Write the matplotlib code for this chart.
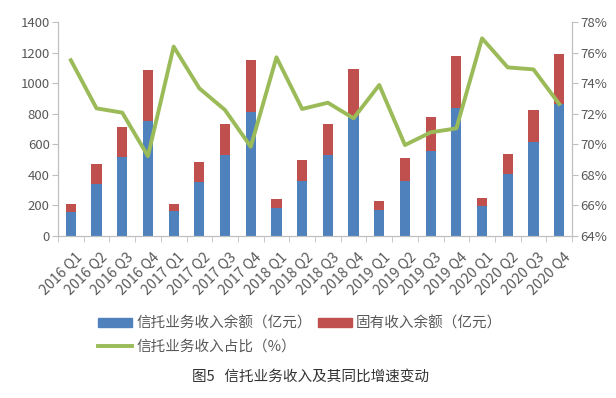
import matplotlib
matplotlib.use('Agg')
import matplotlib.pyplot as plt
import matplotlib.transforms as mtransforms
import numpy as np
from matplotlib.patches import Patch
from matplotlib.lines import Line2D

plt.rcParams['font.family'] = ['Noto Sans CJK SC', 'DejaVu Sans']

# quarters
quarters = ['2016 Q1', '2016 Q2', '2016 Q3', '2016 Q4',
            '2017 Q1', '2017 Q2', '2017 Q3', '2017 Q4',
            '2018 Q1', '2018 Q2', '2018 Q3', '2018 Q4',
            '2019 Q1', '2019 Q2', '2019 Q3', '2019 Q4',
            '2020 Q1', '2020 Q2', '2020 Q3', '2020 Q4']

# trust business income (100m yuan)
trust_income = [159, 340, 517, 752, 166, 355, 532, 809, 181, 362,
                532, 785, 170, 360, 554, 840, 194, 403, 615, 866]
# total incl. proprietary income
total_income = [209, 471, 715, 1084, 212, 484, 733, 1151, 242, 499,
                733, 1092, 229, 510, 781, 1178, 251, 536, 824, 1193]
own_income = [t - b for t, b in zip(total_income, trust_income)]

# trust income share (%)
trust_share = [75.5, 72.35, 72.07, 69.23, 76.39, 73.66, 72.24, 69.84, 75.69, 72.31,
               72.72, 71.70, 73.88, 69.95, 70.78, 71.04, 76.93, 75.03, 74.90, 72.64]

blue = '#4F81BD'
red = '#C0504D'
green = '#9BBB59'
txt = '#595959'
axcol = '#BFBFBF'

fig = plt.figure(figsize=(6.16, 3.98), dpi=100)
ax = fig.add_axes([58 / 616, 1 - 236 / 398, (572 - 58) / 616, (236 - 22) / 398])
x = np.arange(len(quarters))

ax.bar(x, trust_income, width=0.4, color=blue, zorder=2)
ax.bar(x, own_income, width=0.4, bottom=trust_income, color=red, zorder=2)

ax.set_xlim(-0.5, len(quarters) - 0.5)
ax.set_ylim(0, 1400)
ax.set_yticks(range(0, 1401, 200))
ax.set_xticks(x)
ax.set_xticklabels(quarters, rotation=45, ha='right', rotation_mode='anchor', fontsize=10.2, color=txt)
ax.set_xticks(np.arange(-0.5, len(quarters), 1), minor=True)
ax.tick_params(axis='x', which='major', length=0, pad=10)
ax.tick_params(axis='x', which='minor', length=4, color=axcol)
ax.tick_params(axis='y', length=4, color=axcol, labelsize=9.5, labelcolor=txt, pad=2)
ax.spines['top'].set_visible(False)
for s in ['left', 'right', 'bottom']:
    ax.spines[s].set_color(axcol)

# nudge rotated labels a little to the right
shift = mtransforms.ScaledTranslation(4 / 100, 0, fig.dpi_scale_trans)
for lab in ax.get_xticklabels():
    lab.set_transform(lab.get_transform() + shift)

ax2 = ax.twinx()
ax2.plot(x, trust_share, color=green, linewidth=2.8, zorder=3)
ax2.set_ylim(64, 78)
ax2.set_yticks(range(64, 79, 2))
ax2.set_yticklabels(['%d%%' % v for v in range(64, 79, 2)])
ax2.tick_params(axis='y', length=4, color=axcol, labelsize=9.5, labelcolor=txt, pad=2)
ax2.spines['top'].set_visible(False)
for s in ['left', 'right', 'bottom']:
    ax2.spines[s].set_color(axcol)

handles = [Patch(color=blue), Line2D([0], [0], color=green, linewidth=2.8), Patch(color=red)]
labels = ['信托业务收入余额（亿元）', '信托业务收入占比（%）', '固有收入余额（亿元）']
fig.legend(handles, labels, ncol=2, loc='upper left', bbox_to_anchor=(85 / 616, 1 - 303 / 398),
           frameon=False, fontsize=10.5, labelcolor=txt, handlelength=2.3, handleheight=0.6,
           handletextpad=0.3, columnspacing=0.45, labelspacing=0.65)

fig.text(311 / 616, 1 - 377 / 398, '图5   信托业务收入及其同比增速变动', ha='center', va='center',
         fontsize=10.5, color='#333333')

fig.savefig('out.png', dpi=100)
